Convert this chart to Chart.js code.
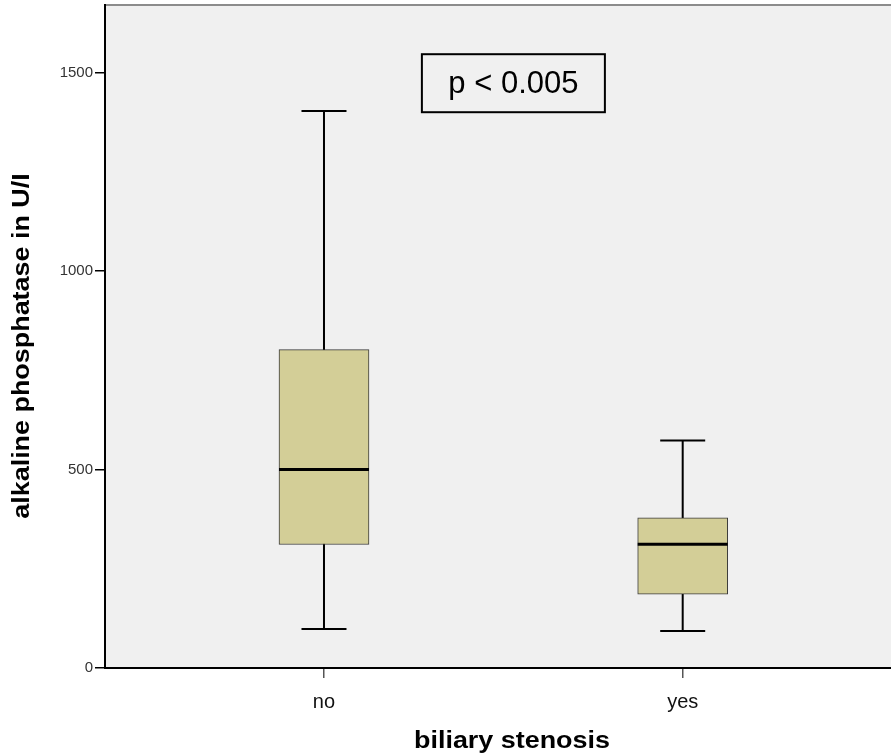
<!DOCTYPE html>
<html>
<head>
<meta charset="utf-8">
<script src="https://cdn.jsdelivr.net/npm/chart.js@4/dist/chart.umd.min.js"></script>
<style>
  html, body { margin: 0; padding: 0; background: #ffffff; }
  canvas { display: block; }
</style>
</head>
<body>
<canvas id="chart" width="891" height="756"></canvas>
<script>
// Alkaline phosphatase by biliary stenosis: five-number summaries per group
const categories   = ['no', 'yes'];
const whiskerLow   = [98, 93];
const quartile1    = [311, 186];
const medians      = [500, 312];
const quartile3    = [802, 378];
const whiskerHigh  = [1403, 573];
const yTickValues  = [0, 500, 1000, 1500];
const pValueText   = 'p < 0.005';
const xTitle       = 'biliary stenosis';
const yTitle       = 'alkaline phosphatase in U/I';

const FONT = "'Liberation Sans', Arial, Helvetica, sans-serif";
const BOX_WIDTH = 90;
const CAP_WIDTH = 45;

const boxData = categories.map((c, i) => ({ x: i + 1, y: [quartile1[i], quartile3[i]] }));

// Plot background and top frame line
const backdrop = {
  id: 'backdrop',
  beforeDraw(chart) {
    const { ctx, chartArea: a } = chart;
    ctx.save();
    ctx.fillStyle = '#f0f0f0';
    ctx.fillRect(a.left, a.top, a.right - a.left, a.bottom - a.top);
    ctx.strokeStyle = '#8c8c8c';
    ctx.lineWidth = 2;
    ctx.beginPath();
    ctx.moveTo(a.left, a.top);
    ctx.lineTo(a.right, a.top);
    ctx.stroke();
    ctx.restore();
  }
};

// Whiskers (behind the boxes) and median lines (on top)
const whiskers = {
  id: 'whiskers',
  beforeDatasetsDraw(chart) {
    const { ctx, scales: { x, y } } = chart;
    ctx.save();
    ctx.strokeStyle = '#000';
    ctx.lineWidth = 2;
    categories.forEach((c, i) => {
      const cx = x.getPixelForValue(i + 1);
      const lo = y.getPixelForValue(whiskerLow[i]);
      const hi = y.getPixelForValue(whiskerHigh[i]);
      ctx.beginPath();
      ctx.moveTo(cx, lo); ctx.lineTo(cx, hi);
      ctx.moveTo(cx - CAP_WIDTH / 2, lo); ctx.lineTo(cx + CAP_WIDTH / 2, lo);
      ctx.moveTo(cx - CAP_WIDTH / 2, hi); ctx.lineTo(cx + CAP_WIDTH / 2, hi);
      ctx.stroke();
    });
    ctx.restore();
  },
  afterDatasetsDraw(chart) {
    const { ctx, scales: { x, y } } = chart;
    ctx.save();
    ctx.strokeStyle = '#000';
    ctx.lineWidth = 3;
    categories.forEach((c, i) => {
      const cx = x.getPixelForValue(i + 1);
      const my = y.getPixelForValue(medians[i]);
      ctx.beginPath();
      ctx.moveTo(cx - BOX_WIDTH / 2, my);
      ctx.lineTo(cx + BOX_WIDTH / 2, my);
      ctx.stroke();
    });
    ctx.restore();
  }
};

// Axis titles, drawn slightly widened, and the p-value label
const labels = {
  id: 'labels',
  afterDraw(chart) {
    const { ctx, scales: { x, y } } = chart;
    const stretch = 1.17;
    ctx.save();
    ctx.fillStyle = '#000';
    ctx.font = 'bold 23px ' + FONT;
    ctx.textAlign = 'center';
    ctx.textBaseline = 'alphabetic';

    ctx.save();
    ctx.translate(512, 748);
    ctx.scale(stretch, 1);
    ctx.fillText(xTitle, 0, 0);
    ctx.restore();

    ctx.save();
    ctx.translate(29, 346);
    ctx.rotate(-Math.PI / 2);
    ctx.scale(stretch, 1);
    ctx.fillText(yTitle, 0, 0);
    ctx.restore();

    // p-value box
    const cx = x.getPixelForValue(1.528);
    const cy = y.getPixelForValue(1473);
    const w = 183, h = 58;
    ctx.fillStyle = '#f0f0f0';
    ctx.fillRect(cx - w / 2, cy - h / 2, w, h);
    ctx.strokeStyle = '#000';
    ctx.lineWidth = 2;
    ctx.strokeRect(cx - w / 2, cy - h / 2, w, h);
    ctx.fillStyle = '#000';
    ctx.font = '31px ' + FONT;
    ctx.textBaseline = 'middle';
    ctx.fillText(pValueText, cx, cy + 1);
    ctx.restore();
  }
};

new Chart(document.getElementById('chart'), {
  type: 'bar',
  data: {
    datasets: [{
      data: boxData,
      backgroundColor: '#d3ce97',
      borderColor: '#3a3a3a',
      borderWidth: 1,
      borderSkipped: false,
      barThickness: BOX_WIDTH
    }]
  },
  options: {
    responsive: false,
    animation: false,
    layout: { padding: { top: 0, right: 0, left: 0, bottom: 0 } },
    plugins: { legend: { display: false }, tooltip: { enabled: false } },
    scales: {
      x: {
        type: 'linear',
        offset: false,
        min: 0.3895,
        max: 2.5807,
        afterBuildTicks(scale) { scale.ticks = [1, 2].map(v => ({ value: v })); },
        afterFit(scale) { scale.height = 88; },
        ticks: {
          callback: (v) => categories[v - 1],
          font: { family: FONT, size: 20 },
          color: '#111',
          padding: 12,
          maxRotation: 0,
          autoSkip: false
        },
        grid: { offset: false, drawOnChartArea: false, drawTicks: true, tickLength: 10, color: '#555', lineWidth: 1.5 },
        border: { color: '#000', width: 2 }
      },
      y: {
        min: 0,
        max: 1670,
        afterBuildTicks(scale) { scale.ticks = yTickValues.map(v => ({ value: v })); },
        afterFit(scale) {
          scale.width = 105;
          scale.paddingTop = 5;
          scale.paddingBottom = 0;
        },
        ticks: {
          callback: (v) => String(v),
          font: { family: FONT, size: 15 },
          color: '#333',
          padding: 2
        },
        grid: { drawOnChartArea: false, drawTicks: true, tickLength: 10, color: '#000', lineWidth: 1.5 },
        border: { color: '#000', width: 2 }
      }
    }
  },
  plugins: [backdrop, whiskers, labels]
});
</script>
</body>
</html>
